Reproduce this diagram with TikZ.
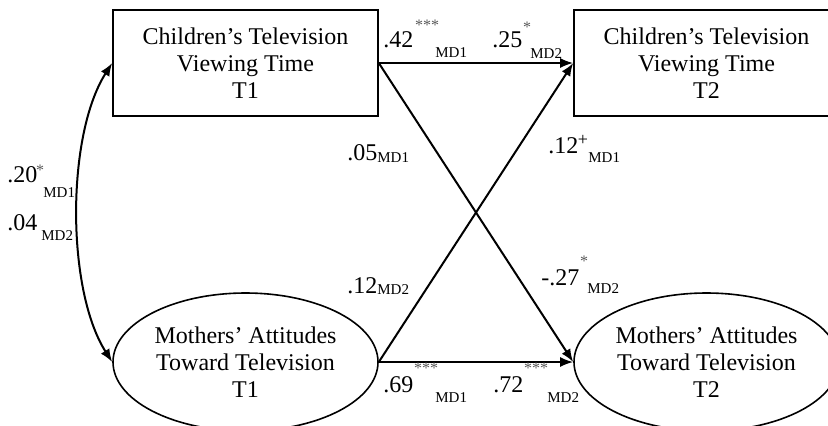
\documentclass[tikz,border=0pt]{standalone}
\usepackage{fontspec}
\setmainfont{Liberation Serif}
\usetikzlibrary{shapes.geometric,arrows.meta}

\begin{document}
\begin{tikzpicture}[x=0.5pt,y=-0.5pt,
    var/.style={draw,line width=0.8pt,align=center,inner sep=0pt,
      minimum width=132.5pt,font=\fontsize{12}{13.5}\selectfont},
    path/.style={line width=1pt,-{Latex[length=6.5pt,width=5pt]}},
    coef/.style={anchor=base west,inner sep=0pt,font=\fontsize{12}{12}\selectfont},
    md/.style={anchor=base west,inner sep=0pt,font=\fontsize{7.5}{7.5}\selectfont},
    sig/.style={inner sep=0pt,gray!70!black,font=\fontsize{8}{8}\selectfont}]
   \useasboundingbox (0,0) rectangle (828,425);

   % variables
   \node[var,rectangle,minimum height=53pt] (ct1) at (245.5,63) {Children's Television\\Viewing Time\\T1};
   \node[var,rectangle,minimum height=53pt] (ct2) at (706.5,63) {Children's Television\\Viewing Time\\T2};
   \node[var,ellipse,minimum height=69pt] (mt1) at (245.5,362) {Mothers' Attitudes\\Toward Television\\T1};
   \node[var,ellipse,minimum height=69pt] (mt2) at (706.5,362) {Mothers' Attitudes\\Toward Television\\T2};

   % paths
   \draw[path] (ct1.east) -- (ct2.west);
   \draw[path] (ct1.east) -- (mt2.west);
   \draw[path] (mt1.east) -- (ct2.west);
   \draw[path] (mt1.east) -- (mt2.west);
   \draw[path,{Latex[length=6.5pt,width=5pt]}-{Latex[length=6.5pt,width=5pt]}]
      (ct1.west) .. controls +(-46,72) and +(-46,-72) .. (mt1.west);

   % coefficients
   \node[coef] (c42) at (383,47) {.42};
   \node[sig] (s42) at (427,25) {***};
   \node[md] (m42) at (435,57) {MD1};

   \node[coef] (c25) at (492,47) {.25};
   \node[sig] (s25) at (527,27) {*};
   \node[md] (m25) at (530,58) {MD2};

   \node[coef] (c05) at (347,160) {.05};
   \node[md] (m05) at (377,162) {MD1};

   \node[coef] (c12a) at (548,153) {.12};
   \node[sig,black,font=\fontsize{9}{9}\selectfont] (s12a) at (583,140) {+};
   \node[md] (m12a) at (588,162) {MD1};

   \node[coef] (c20) at (7,182) {.20};
   \node[sig] (s20) at (40,170) {*};
   \node[md] (m20) at (43,197) {MD1};

   \node[coef] (c04) at (7,230) {.04};
   \node[md] (m04) at (41,240) {MD2};

   \node[coef] (c12b) at (347,293) {.12};
   \node[md] (m12b) at (377,294) {MD2};

   \node[coef] (c27) at (541,285) {-.27};
   \node[sig] (s27) at (584,261) {*};
   \node[md] (m27) at (587,293) {MD2};

   \node[coef] (c69) at (383,392) {.69};
   \node[sig] (s69) at (426,368) {***};
   \node[md] (m69) at (435,402) {MD1};

   \node[coef] (c72) at (493,392) {.72};
   \node[sig] (s72) at (536,368) {***};
   \node[md] (m72) at (547,402) {MD2};
\end{tikzpicture}
\end{document}
